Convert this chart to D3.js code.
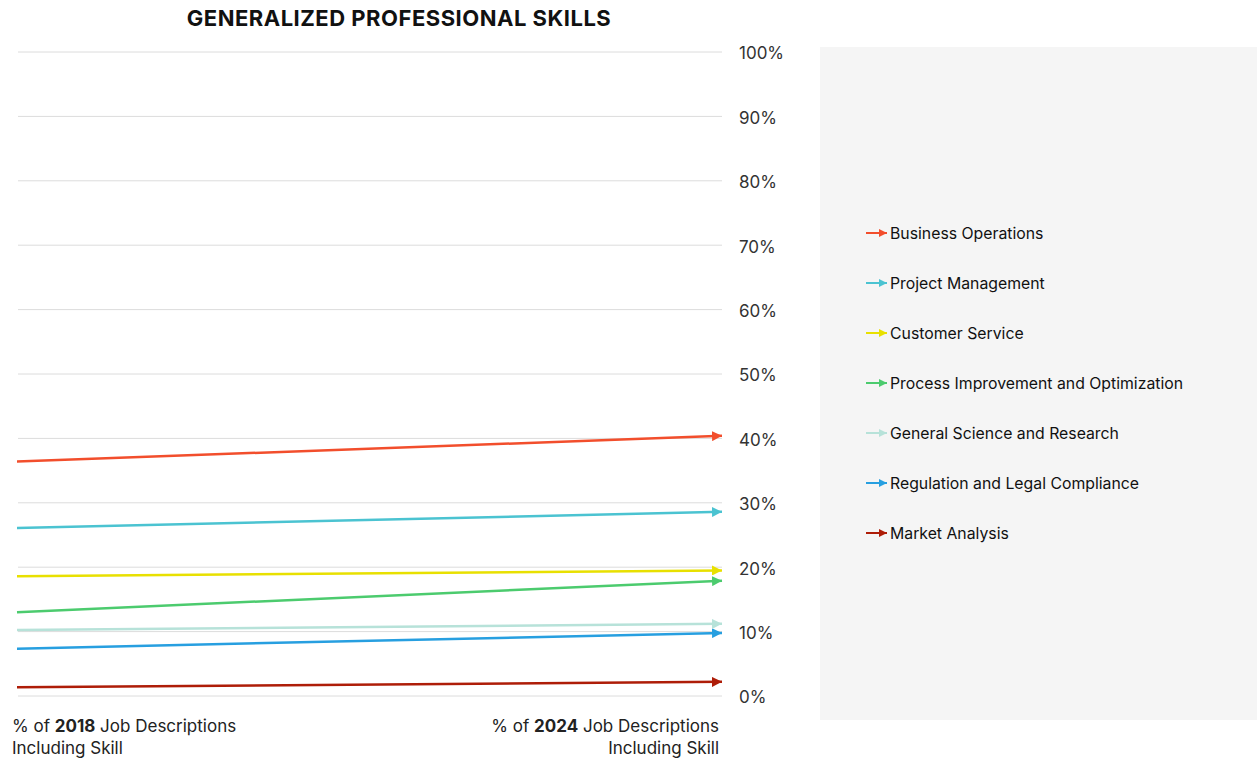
<!DOCTYPE html>
<html><head><meta charset="utf-8">
<script src="https://cdn.jsdelivr.net/npm/d3@7"></script>
<style>body{margin:0;background:#fff;font-family:Inter,"Noto Sans",sans-serif;}</style>
</head><body>
<svg id="chart" width="1257" height="761"></svg>
<script>
const skills = ["Business Operations","Project Management","Customer Service","Process Improvement and Optimization","General Science and Research","Regulation and Legal Compliance","Market Analysis"];
const values2018 = [36.4, 26.1, 18.6, 13.0, 10.25, 7.35, 1.35];
const values2024 = [40.4, 28.6, 19.5, 17.9, 11.2, 9.8, 2.2];
const colors = ["#F24E2C","#4BC3D1","#E8E000","#4CCB6E","#B7E2D9","#279FE0","#AE1D08"];
const yTicks = [0,10,20,30,40,50,60,70,80,90,100];
const years = ["2018","2024"];

const svg = d3.select("#chart");
const x = d3.scalePoint().domain(years).range([17, 722]);
const y = d3.scaleLinear().domain([0,100]).range([696, 52]);

// legend panel
svg.append("rect").attr("x",820).attr("y",47).attr("width",437).attr("height",673).attr("fill","#f5f5f5");

// title
svg.append("text").attr("x",399).attr("y",26).attr("text-anchor","middle")
  .attr("font-size",22).attr("letter-spacing",0.5).attr("font-weight",700).attr("fill","#111").text("GENERALIZED PROFESSIONAL SKILLS");

// grid
const grid = svg.append("g");
grid.selectAll("line").data(yTicks).join("line")
  .attr("x1",18).attr("x2",722).attr("y1",d=>y(d)).attr("y2",d=>y(d))
  .attr("stroke","#dcdcdc").attr("stroke-width",1);

// right axis labels
const axis = d3.axisRight(y).tickValues(yTicks).tickFormat(d=>d+"%").tickSize(0).tickPadding(0);
const ag = svg.append("g").attr("transform","translate(739,0)").call(axis);
ag.select(".domain").remove();
ag.selectAll("text").attr("font-size",17).attr("fill","#333").attr("font-family","Inter,sans-serif").attr("dy","0.4em");

// arrow markers
const defs = svg.append("defs");
colors.forEach((c,i)=>{
  defs.append("marker").attr("id","arr"+i).attr("viewBox","0 0 10 10")
    .attr("refX",10).attr("refY",5).attr("markerWidth",4).attr("markerHeight",4)
    .attr("markerUnits","strokeWidth").attr("orient","auto")
    .append("path").attr("d","M0,0L10,5L0,10Z").attr("fill",c);
});

const data = skills.map((s,i)=>({name:s, vals:[values2018[i], values2024[i]], color:colors[i], i}));
const line = d3.line().x((d,j)=>x(years[j])).y(d=>y(d));
svg.append("g").selectAll("path").data(data.slice().reverse()).join("path")
  .attr("d",d=>line(d.vals)).attr("fill","none").attr("stroke",d=>d.color)
  .attr("stroke-width",2.5).attr("marker-end",d=>`url(#arr${d.i})`);

// legend
const lg = svg.append("g");
data.forEach((d,i)=>{
  const ly = 233 + i*50;
  lg.append("line").attr("x1",866).attr("x2",887).attr("y1",ly).attr("y2",ly)
    .attr("stroke",d.color).attr("stroke-width",2).attr("marker-end",`url(#arr${d.i})`);
  lg.append("text").attr("x",890).attr("y",ly).attr("dy","0.36em").attr("font-size",15.8)
    .attr("fill","#111").text(d.name);
});

// bottom labels
const bl = svg.append("g").attr("font-size",17).attr("fill","#222");
const t1 = bl.append("text").attr("x",12).attr("y",732);
t1.append("tspan").text("% of ");
t1.append("tspan").attr("font-weight",700).text("2018");
t1.append("tspan").text(" Job Descriptions");
bl.append("text").attr("x",12).attr("y",754).text("Including Skill");
const t2 = bl.append("text").attr("x",719).attr("y",732).attr("text-anchor","end");
t2.append("tspan").text("% of ");
t2.append("tspan").attr("font-weight",700).text("2024");
t2.append("tspan").text(" Job Descriptions");
bl.append("text").attr("x",719).attr("y",754).attr("text-anchor","end").text("Including Skill");
</script>
</body></html>
